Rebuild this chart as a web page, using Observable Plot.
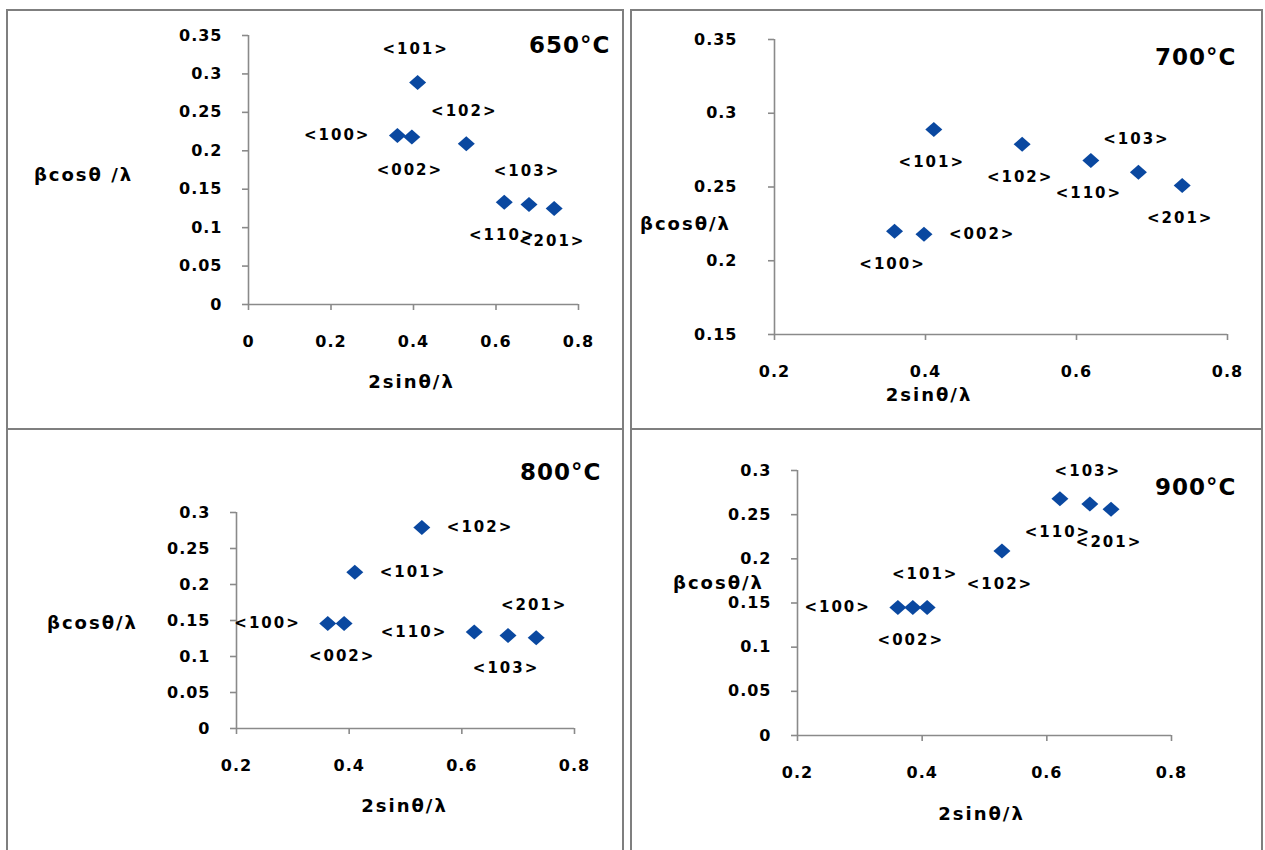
<!DOCTYPE html>
<html>
<head>
<meta charset="utf-8">
<script src="https://cdn.jsdelivr.net/npm/d3@7"></script>
<script src="https://cdn.jsdelivr.net/npm/@observablehq/plot@0.6"></script>
<style>
  html, body { margin: 0; padding: 0; background: #fff; }
  #root { position: relative; width: 1265px; height: 850px; overflow: hidden; background: #fff; }
  .box { position: absolute; border: 2px solid #7f7f7f; box-sizing: border-box; }
  .panel { position: absolute; }
</style>
</head>
<body>
<div id="root"></div>
<script>
// ---- data ----
const hkl = ["<100>", "<002>", "<101>", "<102>", "<110>", "<103>", "<201>"];
const temps = ["650°C", "700°C", "800°C", "900°C"];
const xLabel = "2sinθ/λ";
const yLabels = ["βcosθ /λ", "βcosθ/λ", "βcosθ/λ", "βcosθ/λ"];

const x650 = [0.361, 0.396, 0.410, 0.528, 0.620, 0.680, 0.741];
const y650 = [0.220, 0.218, 0.289, 0.209, 0.133, 0.130, 0.125];
const x700 = [0.359, 0.398, 0.411, 0.528, 0.619, 0.682, 0.740];
const y700 = [0.220, 0.218, 0.289, 0.279, 0.268, 0.260, 0.251];
const x800 = [0.362, 0.391, 0.410, 0.529, 0.622, 0.682, 0.732];
const y800 = [0.146, 0.146, 0.217, 0.279, 0.134, 0.129, 0.126];
const x900 = [0.361, 0.385, 0.408, 0.528, 0.621, 0.669, 0.703];
const y900 = [0.145, 0.145, 0.145, 0.209, 0.268, 0.262, 0.256];

// where each hkl label sits relative to its point
const place650 = ["left", "below", "above", "above", "below", "above", "below"];
const place700 = ["below", "right", "below", "below", "below", "above", "below"];
const place800 = ["left", "below", "right", "right", "left", "below", "above"];
const place900 = ["left", "below", "above", "below", "below", "above", "below"];

const xTicks650 = [0, 0.2, 0.4, 0.6, 0.8];
const xTicksRest = [0.2, 0.4, 0.6, 0.8];
const yTicks650 = [0, 0.05, 0.1, 0.15, 0.2, 0.25, 0.3, 0.35];
const yTicks700 = [0.15, 0.2, 0.25, 0.3, 0.35];
const yTicks800 = [0, 0.05, 0.1, 0.15, 0.2, 0.25, 0.3];
const yTicks900 = [0, 0.05, 0.1, 0.15, 0.2, 0.25, 0.3];

// ---- layout / style ----
const FONT = "DejaVu Sans";
const AXIS = "#8a8a8a";
const BLUE = "#0a48a0";

const diamond = {
  draw(ctx) {
    ctx.moveTo(0, -7.5);
    ctx.lineTo(8.5, 0);
    ctx.lineTo(0, 7.5);
    ctx.lineTo(-8.5, 0);
    ctx.closePath();
  }
};

const panels = [
  {xs: x650, ys: y650, places: place650, title: temps[0], yLabel: yLabels[0],
   xTicks: xTicks650, yTicks: yTicks650,
   box: {left: 7, top: 10, w: 616, h: 419}, m: {l: 241, r: 45, t: 25, b: 125}, yPad: 20,
   yt: [-165, 5], xt: [-2, 83], tt: [32, 1]},
  {xs: x700, ys: y700, places: place700, title: temps[1], yLabel: yLabels[1],
   xTicks: xTicksRest, yTicks: yTicks700,
   box: {left: 631, top: 10, w: 631, h: 419}, m: {l: 143, r: 35, t: 29, b: 95}, yPad: 31,
   yt: [-89, 37], xt: [-72, 66], tt: [9, 9]},
  {xs: x800, ys: y800, places: place800, title: temps[2], yLabel: yLabels[2],
   xTicks: xTicksRest, yTicks: yTicks800,
   box: {left: 7, top: 429, w: 616, h: 421}, m: {l: 229, r: 49, t: 83, b: 122}, yPad: 20,
   yt: [-144, 3], xt: [-1, 83], tt: [27, -49]},
  {xs: x900, ys: y900, places: place900, title: temps[3], yLabel: yLabels[3],
   xTicks: xTicksRest, yTicks: yTicks900,
   box: {left: 631, top: 429, w: 631, h: 421}, m: {l: 166, r: 91, t: 41, b: 115}, yPad: 20,
   yt: [-79, -20], xt: [-3, 84], tt: [65, 8]}
];

const root = document.getElementById("root");

// panel frames
[[6, 9, 618, 421], [630, 9, 633, 421], [6, 428, 618, 440], [630, 428, 633, 440]].forEach(([l, t, w, h]) => {
  const d = document.createElement("div");
  d.className = "box";
  Object.assign(d.style, {left: l + "px", top: t + "px", width: w + "px", height: h + "px"});
  root.appendChild(d);
});

function makePanel(p) {
  const rows = hkl.map((h, i) => ({h, x: p.xs[i], y: p.ys[i], p: p.places[i]}));
  const xDomain = [p.xTicks[0], p.xTicks[p.xTicks.length - 1]];
  const yDomain = [p.yTicks[0], p.yTicks[p.yTicks.length - 1]];
  const lab = (where, opts) => Plot.text(rows.filter(r => r.p === where), {
    x: "x", y: "y", text: "h", fontSize: 15, fill: "black", ...opts
  });
  const fmt = d => String(d);
  const svg = Plot.plot({
    width: p.box.w,
    height: p.box.h,
    marginLeft: p.m.l, marginRight: p.m.r, marginTop: p.m.t, marginBottom: p.m.b,
    style: {fontFamily: FONT, fontWeight: "bold", fontSize: "16px", color: "black", background: "transparent", overflow: "visible"},
    x: {domain: xDomain, label: null},
    y: {domain: yDomain, label: null},
    marks: [
      Plot.ruleX([xDomain[0]], {stroke: AXIS, strokeWidth: 1.6}),
      Plot.ruleY([yDomain[0]], {stroke: AXIS, strokeWidth: 1.6}),
      Plot.axisX({ticks: p.xTicks, tickFormat: fmt, tickSize: 6, tickPadding: 25, stroke: AXIS, strokeWidth: 1.6,
                  fill: "black", fontSize: 16, fontWeight: "bold", label: null}),
      Plot.axisY({ticks: p.yTicks, tickFormat: fmt, tickSize: 6, tickPadding: p.yPad, stroke: AXIS, strokeWidth: 1.6,
                  fill: "black", fontSize: 16, fontWeight: "bold", label: null}),
      Plot.dot(rows, {x: "x", y: "y", symbol: diamond, r: 8, fill: BLUE, stroke: "none"}),
      lab("above", {dx: -2, dy: -33}),
      lab("below", {dx: -2, dy: 33}),
      lab("left", {dx: -27, textAnchor: "end"}),
      lab("right", {dx: 25, textAnchor: "start"}),
      Plot.text([p.yLabel], {text: d => d, frameAnchor: "left", dx: p.yt[0], dy: p.yt[1], textAnchor: "middle",
                             fontSize: 18, fill: "black"}),
      Plot.text([xLabel], {text: d => d, frameAnchor: "bottom", dx: p.xt[0], dy: p.xt[1], textAnchor: "middle",
                           fontSize: 18, fill: "black"}),
      Plot.text([p.title], {text: d => d, frameAnchor: "top-right", dx: p.tt[0], dy: p.tt[1], textAnchor: "end",
                            fontSize: 23, fill: "black"})
    ]
  });
  // letter spacing by kind of text (Excel-like wide bold text)
  d3.select(svg).selectAll("text").each(function () {
    const t = this.textContent.trim();
    let ls = null;
    if (hkl.includes(t)) ls = "2px";
    else if (temps.includes(t)) ls = "1px";
    else if (t === xLabel || yLabels.includes(t)) ls = "2px";
    else if (/^[0-9.]+$/.test(t)) ls = "1px";
    if (ls) d3.select(this).style("letter-spacing", ls);
  });
  const wrap = document.createElement("div");
  wrap.className = "panel";
  Object.assign(wrap.style, {left: p.box.left + "px", top: p.box.top + "px", width: p.box.w + "px", height: p.box.h + "px"});
  wrap.appendChild(svg);
  root.appendChild(wrap);
}

panels.forEach(makePanel);
</script>
</body>
</html>
